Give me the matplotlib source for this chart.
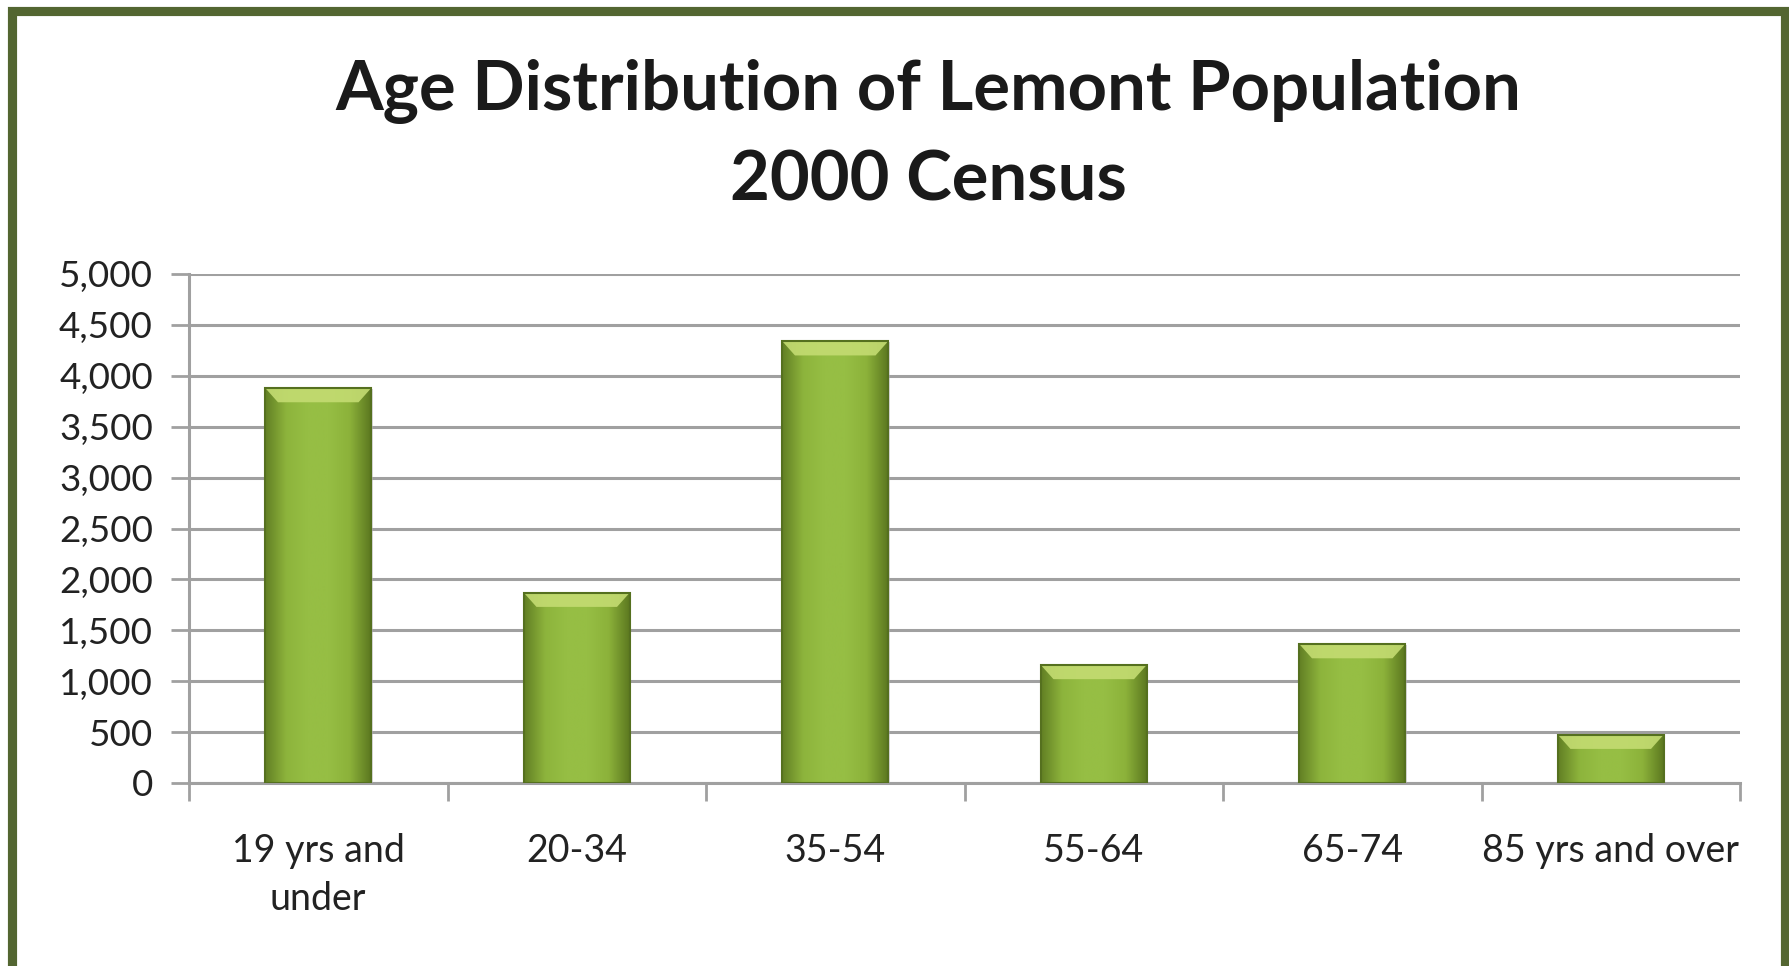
import matplotlib
matplotlib.use("Agg")
import matplotlib.pyplot as plt
import numpy as np
from matplotlib.patches import Rectangle, Polygon
from matplotlib.colors import LinearSegmentedColormap

categories = ["19 yrs and\nunder", "20-34", "35-54", "55-64", "65-74", "85 yrs and over"]
values = [3880, 1870, 4340, 1160, 1365, 475]
yticks = [0, 500, 1000, 1500, 2000, 2500, 3000, 3500, 4000, 4500, 5000]
title = "Age Distribution of Lemont Population\n2000 Census"

plt.rcParams['font.family'] = ['Lato', 'DejaVu Sans']

W, H = 1789, 966
fig = plt.figure(figsize=(W / 100, H / 100), dpi=100)
fig.patch.set_facecolor("white")

# outer frame
fig.add_artist(Rectangle((11.5 / W, 1 - 968.5 / H), (1784.5 - 11.5) / W, (968.5 - 10.5) / H,
                         transform=fig.transFigure, fill=False, edgecolor="#536631",
                         linewidth=6.6, zorder=10))

ax = fig.add_axes([189 / W, 1 - 783 / H, (1740 - 189) / W, (783 - 274) / H])
n = len(categories)
x = np.arange(n)
bw = 0.41
bars = ax.bar(x, values, width=bw, color="#8db43a", edgecolor="#5b7a24", linewidth=1.2, zorder=3)

# gradient shading inside bars
cmap = LinearSegmentedColormap.from_list("g", ["#627f24", "#8db43c", "#96be44", "#96be44", "#8cb23a", "#5c7820"])
grad = np.linspace(0, 1, 256).reshape(1, -1)
for b in bars:
    x0, y0, w, h = b.get_x(), b.get_y(), b.get_width(), b.get_height()
    im = ax.imshow(grad, cmap=cmap, aspect="auto", extent=(x0, x0 + w, y0, y0 + h), zorder=3.5)
    im.set_clip_path(b)
    # top bevel
    bev_h = min(140, h * 0.4)
    inset = w * 0.12
    ax.add_patch(Polygon([(x0, y0 + h), (x0 + w, y0 + h), (x0 + w - inset, y0 + h - bev_h),
                          (x0 + inset, y0 + h - bev_h)], closed=True,
                         facecolor="#c4dc72", edgecolor="none", alpha=0.9, zorder=3.7))
    ax.add_patch(Rectangle((x0, y0), w, h, fill=False, edgecolor="#55701f", linewidth=1.5, zorder=3.8))
    # drop shadow
    ax.add_patch(Rectangle((x0 + 0.005, y0 - 12), w, h, facecolor="#b0b0b0", edgecolor="none",
                           alpha=0.5, zorder=2.9))

ax.set_xlim(-0.5, n - 0.5)
ax.set_ylim(0, 5000)
ax.set_yticks(yticks)
ax.set_yticklabels([f"{v:,}" for v in yticks])
ax.yaxis.grid(True, color="#a0a0a0", linewidth=2.2, zorder=1)
ax.set_axisbelow(True)

ax.set_xticks(x)
ax.set_xticklabels(categories, fontsize=27, color="#222222", linespacing=1.4)
ax.tick_params(axis="x", length=0, pad=36)
ax.set_xticks(np.arange(n + 1) - 0.5, minor=True)
ax.tick_params(axis="x", which="minor", length=13, width=2, color="#a0a0a0", direction="out")
ax.tick_params(axis="y", length=13, width=2, color="#a0a0a0", labelsize=26.5, labelcolor="#222222", pad=13)

for s in ["top", "right"]:
    ax.spines[s].set_visible(False)
for s in ["left", "bottom"]:
    ax.spines[s].set_color("#a0a0a0")
    ax.spines[s].set_linewidth(2.2)

fig.text(928 / W, 1 - 136 / H, title, ha="center", va="center", fontsize=49.5, fontweight="bold",
         color="#1a1a1a", linespacing=1.5)

fig.savefig("out.png", dpi=100, facecolor="white")
